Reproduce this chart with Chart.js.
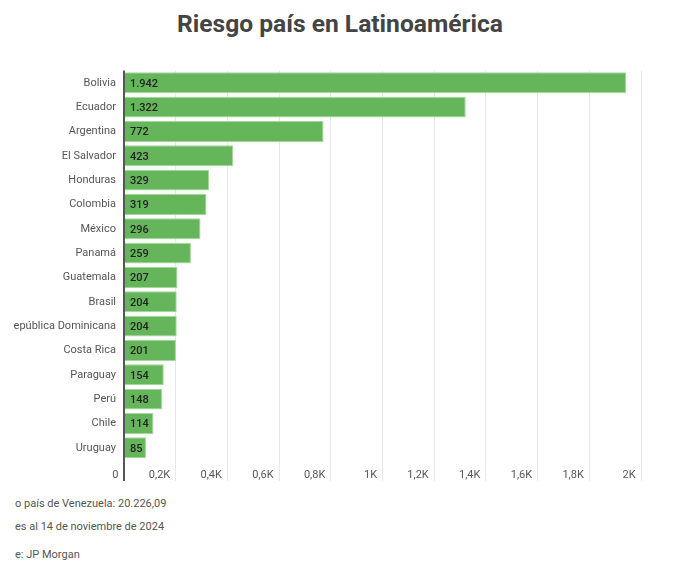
<!DOCTYPE html>
<html lang="es">
<head>
    <meta charset="UTF-8">
    <title>Riesgo país en Latinoamérica</title>
    <script src="https://cdn.jsdelivr.net/npm/chart.js"></script>
    <style>
        * { margin: 0; padding: 0; box-sizing: border-box; }

        body {
            width: 674px;
            height: 569px;
            background: #fff;
            font-family: Roboto, sans-serif;
            position: relative;
            overflow: hidden;
        }

        h1 {
            position: absolute;
            top: 9px;
            left: 3px;
            width: 674px;
            text-align: center;
            font-size: 24.6px;
            font-weight: bold;
            color: #444;
        }

        .chart-box {
            position: absolute;
            left: 0;
            top: 56px;
            width: 674px;
            height: 434px;
        }

        /* the original picture is cut on the left */
        .cut {
            position: absolute;
            left: 0;
            top: 60px;
            width: 13px;
            height: 430px;
            background: #fff;
        }

        .note {
            position: absolute;
            left: 15px;
            font-size: 11px;
            color: #555;
            white-space: nowrap;
        }
    </style>
</head>
<body>
    <h1>Riesgo país en Latinoamérica</h1>

    <div class="chart-box">
        <canvas id="riesgoChart"></canvas>
    </div>
    <div class="cut"></div>

    <div class="note" style="top: 497px;">o país de Venezuela: 20.226,09</div>
    <div class="note" style="top: 520px;">es al 14 de noviembre de 2024</div>
    <div class="note" style="top: 548px;">e: JP Morgan</div>

    <script>
        const paises = ['Bolivia', 'Ecuador', 'Argentina', 'El Salvador', 'Honduras', 'Colombia', 'México', 'Panamá',
            'Guatemala', 'Brasil', 'República Dominicana', 'Costa Rica', 'Paraguay', 'Perú', 'Chile', 'Uruguay'];
        const riesgo = [1942, 1322, 772, 423, 329, 319, 296, 259, 207, 204, 204, 201, 154, 148, 114, 85];
        const tickLabels = ['0', '0,2K', '0,4K', '0,6K', '0,8K', '1K', '1,2K', '1,4K', '1,6K', '1,8K', '2K'];

        // 1942 -> "1.942"
        function formatoES(n) {
            return String(n).replace(/\B(?=(\d{3})+(?!\d))/g, '.');
        }

        // values written at the start of each bar
        const valueLabels = {
            id: 'valueLabels',
            afterDatasetsDraw(chart) {
                const ctx = chart.ctx;
                const meta = chart.getDatasetMeta(0);
                ctx.save();
                ctx.font = '500 11px Roboto, sans-serif';
                ctx.fillStyle = '#222';
                ctx.textAlign = 'left';
                ctx.textBaseline = 'middle';
                meta.data.forEach((bar, i) => {
                    ctx.fillText(formatoES(riesgo[i]), bar.base + 5, bar.y + 1);
                });
                ctx.restore();
            }
        };

        const ctx = document.getElementById('riesgoChart').getContext('2d');
        new Chart(ctx, {
            type: 'bar',
            data: {
                labels: paises,
                datasets: [{
                    data: riesgo,
                    backgroundColor: '#65b65b',
                    borderColor: '#a3d998',
                    borderWidth: 1,
                    barPercentage: 0.86,
                    categoryPercentage: 1
                }]
            },
            options: {
                indexAxis: 'y',
                responsive: true,
                maintainAspectRatio: false,
                animation: false,
                layout: {
                    padding: { top: 6, right: 33, bottom: 0, left: 0 }
                },
                plugins: {
                    legend: { display: false },
                    tooltip: { enabled: false }
                },
                scales: {
                    x: {
                        min: 0,
                        max: 2000,
                        ticks: {
                            stepSize: 200,
                            align: 'end',
                            padding: -12,
                            color: '#555',
                            font: { family: 'Roboto', size: 11 },
                            callback: (v, i) => tickLabels[i] + '  '
                        },
                        grid: {
                            color: c => c.tick && c.tick.value === 0 ? '#555' : '#e8e8e8',
                            lineWidth: c => c.tick && c.tick.value === 0 ? 2 : 1,
                            tickLength: 21
                        },
                        border: { display: false },
                        afterFit: s => { s.height = 30; }
                    },
                    y: {
                        ticks: {
                            padding: 8,
                            color: '#555',
                            font: { family: 'Roboto', size: 11 }
                        },
                        grid: { display: false, drawTicks: false },
                        border: { display: false },
                        afterFit: s => { s.width = 124; }
                    }
                }
            },
            plugins: [valueLabels]
        });
    </script>
</body>
</html>
